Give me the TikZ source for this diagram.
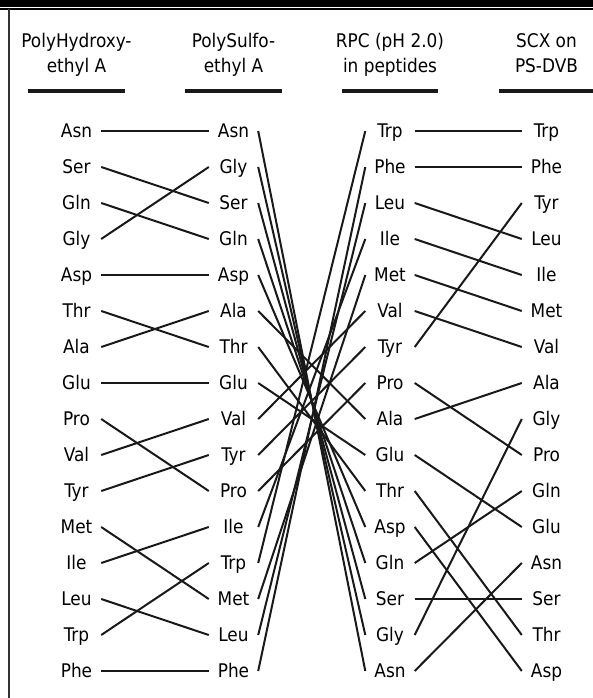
\documentclass[tikz,border=0pt]{standalone}
\usepackage{fontspec}
\setmainfont{DejaVu Sans Condensed}
\begin{document}
\begin{tikzpicture}[x=1pt,y=-1pt,
  lab/.style={font=\fontsize{18.8}{22}\selectfont, minimum width=49pt, inner xsep=0pt, inner ysep=0pt, text height=13.7pt, text depth=0pt},
  hdr/.style={font=\fontsize{18.8}{22}\selectfont, anchor=base, inner sep=0pt},
  conn/.style={line width=2pt, color=black!90},
  rulebar/.style={line width=3.5pt, color=black!90}]
\useasboundingbox (0,0) rectangle (593,698);
% frame
\fill (0,0) rectangle (593,7);
\draw[line width=2pt] (0,9) -- (593,9);
\draw[line width=2pt, black!80] (9,9) -- (9,698);
% headers
\node[hdr] (h1a) at (76.5,48) {PolyHydroxy-};
\node[hdr] (h1b) at (76.5,73) {ethyl A};
\node[hdr] (h2a) at (233.5,48) {PolySulfo-};
\node[hdr] (h2b) at (233.5,73) {ethyl A};
\node[hdr] (h3a) at (390,48) {RPC (pH 2.0)};
\node[hdr] (h3b) at (390,73) {in peptides};
\node[hdr] (h4a) at (546.5,48) {SCX on};
\node[hdr] (h4b) at (546.5,73) {PS-DVB};
\draw[rulebar] (28,91) -- (125,91);
\draw[rulebar] (185,91) -- (282,91);
\draw[rulebar] (342,91) -- (438,91);
\draw[rulebar] (499,91) -- (596,91);
% columns
\foreach \n [count=\i from 0] in {Asn,Ser,Gln,Gly,Asp,Thr,Ala,Glu,Pro,Val,Tyr,Met,Ile,Leu,Trp,Phe}
  \node[lab] (a-\n) at (76.5,{131+36*\i}) {\n};
\foreach \n [count=\i from 0] in {Asn,Gly,Ser,Gln,Asp,Ala,Thr,Glu,Val,Tyr,Pro,Ile,Trp,Met,Leu,Phe}
  \node[lab] (b-\n) at (233.5,{131+36*\i}) {\n};
\foreach \n [count=\i from 0] in {Trp,Phe,Leu,Ile,Met,Val,Tyr,Pro,Ala,Glu,Thr,Asp,Gln,Ser,Gly,Asn}
  \node[lab] (c-\n) at (390,{131+36*\i}) {\n};
\foreach \n [count=\i from 0] in {Trp,Phe,Tyr,Leu,Ile,Met,Val,Ala,Gly,Pro,Gln,Glu,Asn,Ser,Thr,Asp}
  \node[lab] (d-\n) at (546.5,{131+36*\i}) {\n};
% connectors
\foreach \n in {Asn,Ser,Gln,Gly,Asp,Thr,Ala,Glu,Pro,Val,Tyr,Met,Ile,Leu,Trp,Phe} {
  \draw[conn] (a-\n.east) -- (b-\n.west);
  \draw[conn] (b-\n.east) -- (c-\n.west);
  \draw[conn] (c-\n.east) -- (d-\n.west);
}
\end{tikzpicture}
\end{document}
